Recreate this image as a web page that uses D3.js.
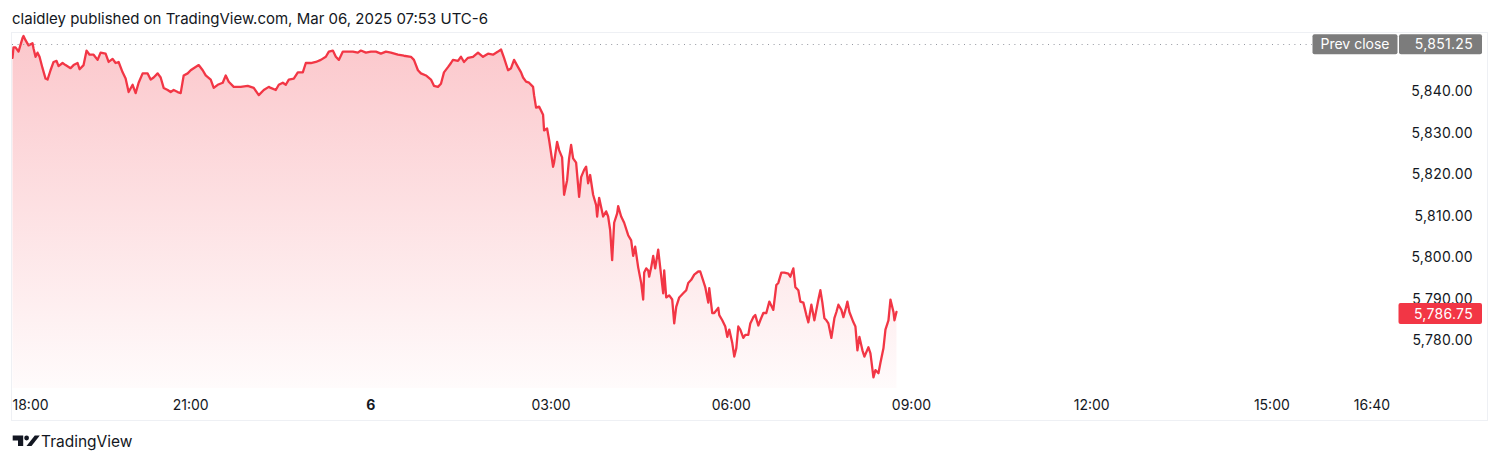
<!DOCTYPE html>
<html>
<head>
<meta charset="utf-8">
<script src="https://cdn.jsdelivr.net/npm/d3@7"></script>
<style>
  html, body { margin: 0; padding: 0; background: #ffffff; }
  svg { display: block; font-family: Inter, "Noto Sans", "Liberation Sans", sans-serif; }
</style>
</head>
<body>
<svg id="chart" width="1500" height="463"></svg>
<script>
// ---- data (ES1! closes) ----
const sessionOpen = "2025-03-05T18:00:00";
const minutesFromOpen = [
  2,3,5,8,12,13,15,18,22,23,25,27,29,32,35,37,40,43,46,48,52,55,60,63,67,69,73,76,79,83,87,90,95,98,102,105,108,112,115,118,122,125,128,132,137,140,143,147,150,153,157,160,163,167,170,173,177,180,183,188,192,195,200,203,207,212,215,218,223,230,237,243,248,253,258,
  260,265,268,272,275,278,283,287,292,295,300,305,310,315,318,322,325,328,332,337,342,347,350,355,360,365,370,375,380,387,393,400,403,407,410,415,420,423,427,430,433,437,440,442,447,450,453,457,462,467,472,477,482,487,490,
  493,497,500,503,507,510,512,515,518,522,523,525,528,532,533,536,538,542,543,546,548,551,553,556,558,560,562,565,568,570,573,575,577,579,582,585,586,588,592,595,597,599,601,603,606,607,610,613,617,620,622,624,627,630,632,633,635,637,638,640,642,644,647,649,652,653,655,658,661,663,665,668,672,675,677,680,683,687,689,
  692,694,697,698,701,703,707,708,711,714,716,718,721,723,725,727,729,732,734,737,739,742,744,747,749,752,755,758,762,765,767,770,773,777,779,782,784,787,789,792,795,797,800,803,807,809,811,813,815,817,820,823,825,827,830,832,834,836,838,842,844,846,848,851,853,857,859,862,864,867,869,872,874,877,879,882,883,885
];
const prices = [
  5848.0,5850.5,5850.5,5849.5,5852.75,5853.25,5852.25,5851.0,5851.5,5850.25,5848.25,5849.25,5848.25,5845.5,5843.0,5842.75,5845.0,5847.0,5847.25,5846.0,5846.75,5846.25,5845.5,5846.25,5846.75,5845.25,5846.25,5849.75,5848.75,5848.75,5847.5,5849.25,5849.0,5847.0,5847.75,5846.75,5847.0,5844.5,5843.0,5839.75,5841.5,5839.5,5842.0,5844.25,5844.25,5842.75,5843.25,5844.25,5843.25,5840.75,5840.25,5839.75,5840.25,5839.75,5839.5,5843.75,5844.25,5845.0,5845.5,5846.25,5845.0,5843.75,5842.75,5840.75,5841.5,5842.0,5843.75,5842.25,5841.0,5841.0,5841.25,5840.75,5839.0,5840.25,5841.0,
  5840.75,5840.25,5841.5,5842.0,5841.5,5842.75,5843.0,5844.5,5844.5,5846.75,5846.75,5847.0,5847.5,5848.25,5849.5,5849.75,5848.25,5847.5,5849.5,5849.5,5849.5,5849.25,5849.75,5849.25,5849.5,5849.5,5849.0,5849.5,5849.25,5848.75,5848.5,5848.25,5847.5,5845.0,5844.25,5843.75,5842.75,5841.25,5841.0,5841.75,5844.5,5845.75,5846.75,5847.5,5847.25,5848.25,5847.0,5848.0,5848.25,5849.25,5848.25,5849.0,5848.75,5849.5,5850.0,
  5848.0,5845.0,5845.5,5847.5,5845.75,5844.5,5843.25,5842.25,5842.0,5841.0,5839.0,5836.0,5836.25,5834.25,5830.5,5831.0,5828.25,5821.75,5822.75,5827.75,5825.75,5824.0,5815.0,5818.5,5823.75,5827.0,5823.75,5822.75,5814.5,5819.25,5821.0,5821.75,5817.75,5819.75,5815.0,5812.5,5809.75,5814.25,5809.75,5811.0,5809.75,5806.5,5799.25,5808.25,5810.5,5812.25,5809.75,5808.25,5805.25,5804.0,5800.25,5802.5,5797.5,5793.75,5789.75,5796.25,5797.25,5796.75,5795.25,5797.5,5800.25,5797.25,5801.75,5797.5,5791.25,5796.75,5790.25,5790.75,5789.75,5784.0,5788.0,5790.25,5791.25,5792.0,5793.75,5794.5,5795.75,5796.5,5796.5,
  5794.25,5792.75,5789.0,5792.5,5786.5,5786.5,5787.75,5786.0,5784.75,5783.25,5780.75,5782.5,5779.25,5776.0,5778.0,5783.25,5782.5,5780.5,5781.25,5781.25,5784.0,5785.5,5786.0,5783.5,5784.75,5786.5,5786.5,5789.25,5787.25,5793.25,5793.75,5796.25,5796.25,5796.0,5795.25,5797.25,5792.75,5792.0,5789.25,5789.0,5786.0,5784.25,5788.5,5784.75,5789.75,5792.0,5789.0,5785.25,5784.75,5784.0,5780.5,5785.25,5786.75,5788.5,5787.25,5785.5,5787.25,5789.25,5786.75,5784.25,5783.25,5777.5,5780.75,5777.5,5776.0,5778.25,5776.75,5771.0,5772.75,5772.0,5774.5,5778.0,5782.5,5784.75,5789.75,5786.75,5784.75,5786.75
];
const prevClose = 5851.25;
const lastPrice = 5786.75;
const priceTicks = [5780, 5790, 5800, 5810, 5820, 5830, 5840];
const timeTickLabels = ["18:00", "21:00", "6", "03:00", "06:00", "09:00", "12:00", "15:00", "16:40"];
const timeTickMinutes = [0, 180, 360, 540, 720, 900, 1080, 1260, 1360];
const headerText = "claidley published on TradingView.com, Mar 06, 2025 07:53 UTC-6";

// ---- setup ----
const svg = d3.select("#chart");
const frame = { left: 11.5, top: 32.5, right: 1487.5, bottom: 420.5 };
const plotBottom = 388, plotTop = 33;
const open = new Date(sessionOpen);
const addMin = m => new Date(open.getTime() + m * 60000);

const x = d3.scaleTime()
  .domain([open, addMin(1380)])
  .range([10.5, 1392]);
const y = d3.scaleLinear()
  .domain([5768.43, 5853.98])
  .range([plotBottom, plotTop]);

const data = minutesFromOpen.map((m, i) => ({ t: addMin(m), v: prices[i] }));

const red = "#F23645";
const textColor = "#131722";

// header
svg.append("text")
  .attr("x", 12).attr("y", 24)
  .attr("font-size", 15).attr("fill", textColor)
  .text(headerText);

// frame
svg.append("rect")
  .attr("x", frame.left).attr("y", frame.top)
  .attr("width", frame.right - frame.left).attr("height", frame.bottom - frame.top)
  .attr("fill", "none").attr("stroke", "#eef0f4").attr("stroke-width", 1);

// gradient
const defs = svg.append("defs");
const grad = defs.append("linearGradient")
  .attr("id", "areaGrad").attr("gradientUnits", "userSpaceOnUse")
  .attr("x1", 0).attr("x2", 0).attr("y1", plotTop).attr("y2", plotBottom);
grad.append("stop").attr("offset", "0%").attr("stop-color", red).attr("stop-opacity", 0.28);
grad.append("stop").attr("offset", "100%").attr("stop-color", red).attr("stop-opacity", 0.02);

defs.append("clipPath").attr("id", "plotClip")
  .append("rect").attr("x", 12).attr("y", plotTop).attr("width", 1380).attr("height", plotBottom - plotTop);

const g = svg.append("g").attr("clip-path", "url(#plotClip)");

const area = d3.area()
  .x(d => x(d.t)).y0(plotBottom).y1(d => y(d.v));
const line = d3.line()
  .x(d => x(d.t)).y(d => y(d.v));

g.append("path").datum(data)
  .attr("d", area).attr("fill", "url(#areaGrad)");

// prev close dotted line
svg.append("line")
  .attr("x1", 12).attr("x2", 1312)
  .attr("y1", Math.round(y(prevClose)) + 0.5).attr("y2", Math.round(y(prevClose)) + 0.5)
  .attr("stroke", "#9598a1").attr("stroke-width", 1)
  .attr("stroke-dasharray", "1,4.6");

g.append("path").datum(data)
  .attr("d", line).attr("fill", "none")
  .attr("stroke", red).attr("stroke-width", 2.3)
  .attr("stroke-linejoin", "round").attr("stroke-linecap", "round");

// price axis labels
const fmt = d3.format(",.2f");
svg.append("g").selectAll("text").data(priceTicks).join("text")
  .attr("x", 1473).attr("y", d => y(d))
  .attr("dy", "0.36em")
  .attr("text-anchor", "end")
  .attr("font-size", 14).attr("letter-spacing", 0.3).attr("fill", textColor)
  .text(d => fmt(d));

// prev close label
const pcY = y(prevClose);
svg.append("rect")
  .attr("x", 1312.5).attr("y", pcY - 10).attr("width", 85).attr("height", 20)
  .attr("rx", 2).attr("fill", "#7c7c7c");
svg.append("text")
  .attr("x", 1355).attr("y", pcY).attr("dy", "0.36em").attr("text-anchor", "middle")
  .attr("font-size", 14).attr("fill", "#ffffff").text("Prev close");
svg.append("rect")
  .attr("x", 1399).attr("y", pcY - 10).attr("width", 83).attr("height", 20)
  .attr("rx", 2).attr("fill", "#7c7c7c");
svg.append("text")
  .attr("x", 1473).attr("y", pcY).attr("dy", "0.36em").attr("text-anchor", "end")
  .attr("font-size", 14).attr("letter-spacing", 0.3).attr("fill", "#ffffff").text(fmt(prevClose));

// last price label
const lpY = y(lastPrice) + 1.5;
svg.append("rect")
  .attr("x", 1398.5).attr("y", lpY - 10.5).attr("width", 83.5).attr("height", 21)
  .attr("rx", 2).attr("fill", red);
svg.append("text")
  .attr("x", 1473).attr("y", lpY).attr("dy", "0.36em").attr("text-anchor", "end")
  .attr("font-size", 14).attr("letter-spacing", 0.3).attr("fill", "#ffffff").text(fmt(lastPrice));

// time axis
const tg = svg.append("g");
timeTickLabels.forEach((lab, i) => {
  const t = tg.append("text")
    .attr("x", x(addMin(timeTickMinutes[i])))
    .attr("y", 410)
    .attr("text-anchor", "middle")
    .attr("font-size", 14)
    .attr("font-weight", lab === "6" ? 700 : 400)
    .attr("fill", textColor)
    .text(lab);
  const bb = t.node().getBBox();
  if (bb.x < 12) t.attr("text-anchor", "start").attr("x", 12.5);
});

// footer logo + text
const logo = svg.append("g").attr("fill", textColor);
logo.append("path").attr("d", "M12.7,435.5 H23.2 V446 H18 V440.5 H12.7 Z");
logo.append("circle").attr("cx", 26.6).attr("cy", 438).attr("r", 2.4);
logo.append("path").attr("d", "M26.5,446 L31.5,446 L39.8,435.5 L34.8,435.5 Z");
svg.append("text")
  .attr("x", 41).attr("y", 447)
  .attr("font-size", 15.5).attr("fill", textColor)
  .text("TradingView");
</script>
</body>
</html>
